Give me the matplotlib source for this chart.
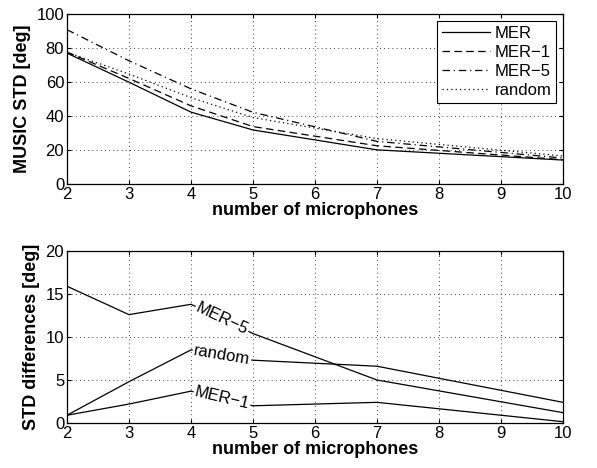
import numpy as np
import matplotlib.pyplot as plt

plt.rcParams['font.family'] = ['Liberation Sans', 'DejaVu Sans']

mics = [2, 3, 4, 5, 7, 10]

# MUSIC standard deviation per selection method
std_mer = [77.0, 59.9, 42.3, 31.8, 20.1, 14.1]
std_mer1 = [77.6, 62.1, 46.0, 33.8, 22.5, 14.3]
std_mer5 = [90.8, 72.5, 56.0, 42.2, 25.1, 15.3]
std_random = [77.5, 64.7, 50.8, 39.1, 26.7, 16.5]

# differences with respect to MER
diff_mer5 = [15.9, 12.6, 13.8, 10.4, 5.0, 1.2]
diff_random = [0.9, 4.8, 8.5, 7.3, 6.6, 2.4]
diff_mer1 = [0.9, 2.2, 3.7, 2.0, 2.4, 0.15]

fs = 12
lfs = 13
fig = plt.figure(figsize=(5.97, 4.68), dpi=100)
ax1 = fig.add_axes([0.1122, 0.6068, 0.8308, 0.3632])
ax2 = fig.add_axes([0.1122, 0.0962, 0.8308, 0.3675])

lw = 0.9
ax1.plot(mics, std_mer, 'k-', lw=lw, label='MER')
ax1.plot(mics, std_mer1, 'k--', lw=lw, dashes=(6, 3.5), label='MER\u22121')
ax1.plot(mics, std_mer5, 'k-.', lw=lw, dashes=(6, 3, 1, 3), label='MER\u22125')
ax1.plot(mics, std_random, 'k:', lw=lw, dashes=(1, 2.5), label='random')
ax1.set_ylim(0, 100)
ax1.set_yticks(np.arange(0, 101, 20))
ax1.set_ylabel('MUSIC STD [deg]', fontsize=lfs, fontweight='bold')
leg = ax1.legend(loc='upper right', fontsize=fs, fancybox=False, framealpha=1,
                 edgecolor='k', handlelength=2.9, borderaxespad=0.4,
                 labelspacing=0.25, handletextpad=0.25, borderpad=0.3)
leg.get_frame().set_linewidth(0.8)

ax2.plot(mics, diff_mer5, 'k-', lw=lw)
ax2.plot(mics, diff_random, 'k-', lw=lw)
ax2.plot(mics, diff_mer1, 'k-', lw=lw)
ax2.set_ylim(0, 20)
ax2.set_yticks(np.arange(0, 21, 5))
ax2.set_ylabel('STD differences [deg]', fontsize=lfs, fontweight='bold')

# inline labels on the segment between 4 and 5 microphones
for name, d in [('MER\u22125', diff_mer5), ('random', diff_random), ('MER\u22121', diff_mer1)]:
    x0, x1 = mics[2], mics[3]
    y0, y1 = d[2], d[3]
    ang = np.degrees(np.arctan2(y1 - y0, x1 - x0))
    ax2.text((x0 + x1) / 2, (y0 + y1) / 2, name, fontsize=fs, rotation=ang,
             transform_rotates_text=True, rotation_mode='anchor',
             ha='center', va='center',
             bbox=dict(facecolor='white', edgecolor='none', pad=0.8))

for ax in (ax1, ax2):
    ax.set_xlim(2, 10)
    ax.set_xticks(range(2, 11))
    ax.set_xlabel('number of microphones', fontsize=lfs, fontweight='bold', labelpad=0)
    ax.grid(True, color='k', linestyle=':', linewidth=0.6, dashes=(1, 4))
    ax.tick_params(direction='in', top=True, right=True, labelsize=fs, length=3, pad=2)
    for s in ax.spines.values():
        s.set_linewidth(0.9)

fig.savefig('out.png', dpi=100)
